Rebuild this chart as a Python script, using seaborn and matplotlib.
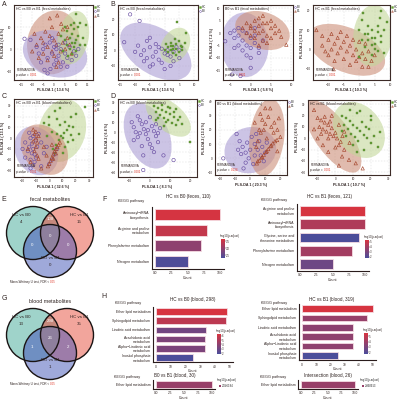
import numpy as np
import seaborn as sns
import matplotlib
matplotlib.use("Agg")
import matplotlib.pyplot as plt
from matplotlib.patches import Ellipse, Circle, Patch, Polygon
from matplotlib.lines import Line2D
from matplotlib.colors import LinearSegmentedColormap, Normalize
from matplotlib.cm import ScalarMappable

W, H = 397, 400

# ---------------- PLS-DA scores ----------------
a_hc = [(6, 2), (8, 3), (9, 1), (7, 5), (10, 4), (11, 6), (8, 7), (9, 9), (6, 8), (12, 2), (7, 0),
        (10, -1), (9, 12), (11, 10), (5, 4), (8, -2), (13, 5), (10, 16), (9.5, 3), (14.5, 10.8),
        (7.5, 11), (6.5, -3), (3, 6), (4, -1), (14, 2), (12, 12), (5, 10)]
a_b0 = [(-13.5, 4.7), (-10.8, 4.2), (-4.4, -9.4), (-1.7, -9), (-3, -11), (-7, -2), (-5, 0), (-3, -4),
        (-1, -2), (0, 1), (1, -5), (2, -3), (3, 0), (4, -6), (5, -2), (6, -4), (7, 1), (8, -5), (9, -1),
        (10, -3), (-2, 3), (0, -7), (2, 2), (-6, -6), (3, -8), (5, 3), (-4, 2), (1, 0), (6, -8), (11, 0),
        (-8, 1), (-1, 5)]
a_b1 = [(1.4, 15.3), (3.2, 11.5), (-2, 14), (-8, 2), (-6, 5), (-4, 8), (-2, 6), (0, 4), (2, 7), (4, 3),
        (6, 5), (-5, -2), (-3, 1), (-1, -1), (1, 2), (3, -1), (5, 0), (7, 2), (-7, -4), (-3, -5), (0, -3),
        (2, -6), (4, 9), (-1, 10), (-9, 7), (8, -2), (-5, 3), (1, -8), (6, 10), (-10, -1)]

b1_hc = [(1, 2), (2, 0), (3, 3), (4, 1), (5, -1), (3, -2), (2, 5), (4, 4), (6, 2), (5, 6), (1, -1),
         (3, 1), (4, -3), (2, 3), (6, 0), (4.1, 18), (7.4, 11), (0.5, 4), (3.5, 7), (5.5, 3), (0, 0),
         (7, 5)]
b1_b0 = [(-11.7, 23), (-8.5, 18.8), (-13.7, 5.2), (-5, -10.4), (5, -5), (-9, 3), (-7, 0), (-5, 2),
         (-3, -1), (-1, 1), (1, -3), (3, -1), (-6, -5), (-4, -4), (-2, -6), (0, -2), (2, -4), (4, 2),
         (-8, -3), (-3, 4), (-1, -8), (1, 0), (-6, 6), (-2, 2), (3, -7), (-4, -9), (0, -12), (-7, -7),
         (2, -10), (-10, -1), (5, 0), (-5, 8)]

b2_b0 = [(-6.25, -3.3), (0, -14), (-2.5, -17.3), (-4.6, -16.7), (-4, 1), (-3, -1), (-2, -3), (-1, 0),
         (0, -2), (1, -4), (2, -6), (-3, -5), (-2, -7), (-1, -9), (0, -6), (1, -1), (-4, -2), (-5, 0),
         (-3, 2), (-1, -5), (2, -8), (-2, 1), (0, -10), (3, -3), (-4, -6), (1, 2)]
b2_b1 = [(8.75, -4.7), (7.5, -1.5), (-1, 4), (0, 2), (1, 5), (2, 3), (3, 1), (4, 4), (5, 2), (6, 0),
         (0, -1), (1, -2), (2, 0), (3, -3), (4, -1), (5, 5), (6, 3), (-1, 0), (2, 6), (3, 7), (1, 1),
         (4, -4), (0, 3), (5, -2), (7, 1), (2, -5), (-2, 2), (3, 4)]

b3_hc = [(1.1, 19), (6.7, 16.4), (2, 8), (3, 5), (4, 10), (5, 6), (6, 9), (4, 2), (3, 12), (5, 3),
         (7, 7), (2, 1), (6, 12), (4, -3), (5, 0), (3, 8), (7, 4), (1, 5), (4, 6), (6, -1), (0, 10),
         (8, 10), (0, -4), (9, 14), (8, -2), (1, 15), (7, 20)]
b3_b1 = [(-13.9, 10), (-8.3, -10.3), (-12, 7), (-12, 2), (-10, 5), (-10, -3), (-9, 8), (-8, 3),
         (-8, -6), (-7, 6), (-7, -2), (-6, 1), (-6, 9), (-5, 4), (-5, -5), (-4, -1), (-4, 7), (-3, 2),
         (-3, -8), (-2, -3), (-2, 5), (-1, 0), (-1, -6), (0, -4), (0, 4), (1, -2), (1, -9), (2, -5),
         (2, 3), (3, -1), (4, -6), (5, -3), (3, -9), (-11, -1), (-9, 0)]

c_hc = [(26.6, 28.6), (20, 22), (3, -10), (5, -6), (7, -2), (9, 2), (11, 5), (13, 8), (15, 11),
        (4, -14), (8, 12), (12, 15), (6, 18), (10, 0), (16, 3), (2, 6), (14, -4), (18, 10), (0, 12),
        (6, 4), (-4, 14), (0, 20), (4, 25), (12, -8), (18, -2), (22, 4), (-2, 2), (8, 28), (16, 20),
        (10, -14)]
c_b0 = [(-15, 5), (-14, 0), (-13, -5), (-12, -10), (-11, -15), (-14, -20), (-10, -2), (-9, -8),
        (-12, 2), (-13, -14), (-11, -22), (-16, -12), (-10, -18), (-15, -8), (-12, -25), (2, -20),
        (4, -15), (6, -10), (0, -24), (-18, -4), (-8, 4), (-14, -28), (-20, -10), (-6, -4),
        (-4, -14), (-18, -18), (-2, -8), (-6, -26)]
c_b1 = [(-12, 8), (-11, 4), (-10, 0), (-9, -4), (-10, -8), (-11, -12), (-9, -16), (-8, -19),
        (-12, -3), (-8, 2), (-10, 6), (0, -24), (1, -21), (2, -18), (3, -15), (4, -12), (5, -10),
        (6, -8), (7, -6), (8, -4), (-1, -26), (3, -19), (5, -14), (-16, -10), (-14, -22), (-4, -8),
        (-2, -16), (-6, -28), (2, -6)]

d1_b0 = [(-3.3, -23.3), (6.7, -23.3), (-3.3, -38), (11.7, -28), (2, -20), (-9, 10), (-8, 5), (-7, 0),
         (-6, -5), (-5, 12), (-4, 8), (-3, 3), (-2, -2), (-1, -7), (0, 15), (1, 6), (2, 1), (3, -4),
         (4, -10), (5, 4), (-6, 16), (-2, 10), (0, -12), (-4, -14), (3, 8), (-8, -8), (1, -16),
         (-1, 2), (4, -1), (-5, -1)]
d1_hc = [(20, -10), (2, 26), (4, 24), (6, 22), (8, 20), (10, 18), (12, 15), (14, 12), (3, 20),
         (5, 17), (7, 14), (9, 12), (11, 9), (13, 7), (6, 27), (10, 24), (15, 15), (4, 14), (8, 10),
         (12, 20), (3, 12), (9, 25), (13, 23), (7, 6), (16, 8)]

d2_b0 = [(-17.8, 0), (-4.4, -7), (-9, 17), (-7, 12), (-5, 8), (-3, 4), (-1, 0), (1, 15), (3, 10),
         (5, 6), (7, 2), (9, -2), (-6, 3), (-2, 11), (0, 6), (2, -4), (4, 17), (6, 12), (8, 8),
         (10, 4), (-8, 6), (11, 11), (-3, -3), (3, 2)]
d2_b1 = [(4.4, -3.5), (6, -1.5), (7.5, 0.5), (9, 2.5), (10.5, 4.5), (12, 6.5), (13.5, 8.5),
         (15, 10.5), (16.5, 12), (17.8, 12.8), (5, -2), (8, 1), (11, 5), (14, 9), (6.7, 31), (8, 27),
         (10, 24), (12, 29), (14, 22), (15.5, 18), (9, 20), (11, 14), (13.3, 34.9), (7, 18),
         (16, 25), (5, 12), (4, 8), (6, 20), (18, 20), (20, 15), (3, 25), (18, 5), (10, 35), (19, 28)]

d3_b1 = [(3.8, -16), (7.7, -19), (11.5, -22), (15.4, -26.5), (2, -24), (-10, 18), (-8, 16), (-6, 14),
         (-4, 12), (-9, 10), (-7, 8), (-5, 6), (-3, 4), (-1, 2), (1, 0), (3, -3), (-6, 19), (-2, 9),
         (0, 5), (2, -6), (-8, 4), (4, 2), (-4, 0), (0, -8), (5, -10), (-3, 15), (-12, 8), (-10, 0),
         (-7, -6), (-4, -12), (-2, 20), (2, 12), (5, 6), (-12, 25), (8, -4)]
d3_hc = [(25, 5.9), (4, 20), (6, 18), (8, 15), (10, 12), (12, 9), (14, 6), (16, 3), (18, 0),
         (20, -4), (7, 8), (9, 4), (11, 1), (13, -2), (15, 14), (17, 10), (5, 12), (19, 8), (22, 2),
         (10, -6), (8, 25), (12, 22), (14, 24), (20, 16), (24, -8), (16, -10), (6, 2), (12, -12),
         (20, 20), (4, 6)]

# ---------------- Venn counts ----------------
venn_sets = ["HC vs B0", "HC vs B1", "BO vs B1"]
fecal_counts = {"a": 4, "b": 15, "c": 0, "ab": 108, "ac": 0, "bc": 0, "abc": 0}
blood_counts = {"a": 13, "b": 35, "c": 1, "ab": 298, "ac": 1, "bc": 2, "abc": 26}

# ---------------- KEGG enrichment ----------------
f1_terms = ["Aminoacyl\u2212tRNA\nbiosynthesis", "Arginine and proline\nmetabolism",
            "Phenylalanine metabolism", "Nitrogen metabolism"]
f1_count = [10, 8, 7, 5]
f1_logp = [3.62, 3.45, 2.95, 2.35]

f2_terms = ["Arginine and proline\nmetabolism", "Aminoacyl\u2212tRNA\nbiosynthesis",
            "Glycine, serine and\nthreonine metabolism", "Phenylalanine metabolism",
            "Nitrogen metabolism"]
f2_count = [10, 10, 9, 8, 5]
f2_logp = [5.25, 4.3, 1.85, 4.0, 2.7]

lipid_terms = ["Ether lipid metabolism", "Sphingolipid metabolism", "Linoleic acid metabolism",
               "Arachidonic acid\nmetabolism", "Alpha\u2212Linolenic acid\nmetabolism",
               "Inositol phosphate\nmetabolism"]
h1_count = [48, 47, 34, 33, 33, 25]
h1_logp = [6.35, 5.5, 3.1, 3.5, 3.4, 1.85]
h2_count = [50, 46, 36, 36, 36, 25]
h2_logp = [5.55, 3.8, 3.5, 3.6, 3.6, 1.75]
h3_terms = ["Ether lipid metabolism"]
h3_count = [10]
h3_logp = ["2.046184"]
h4_count = [10]
h4_logp = ["2.868913"]

# ---------------- style ----------------
sns.set_style("white")
plt.rcParams["font.family"] = ["Liberation Sans", "DejaVu Sans"]
INK = "#2e2220"
COL = {"HC": "#6aa33a", "B0": "#6a4fa3", "B1": "#a5472e"}
FILL = {"HC": "#c3d79a", "B0": "#ab9dd4", "B1": "#cc8f78"}
MARK = {"HC": "s", "B0": "o", "B1": "^"}
cmap = LinearSegmentedColormap.from_list("kegg", ["#4a4d9b", "#d8343f"])

fig = plt.figure(figsize=(W / 100, H / 100), dpi=100)


def box(x0, y0, x1, y1):
    return [x0 / W, 1 - y1 / H, (x1 - x0) / W, (y1 - y0) / H]


def ftext(x, y, s, **kw):
    kw.setdefault("color", INK)
    return fig.text(x / W, 1 - y / H, s, **kw)


def ellipse(ax, pts, g):
    pts = np.asarray(pts, float)
    vals, vecs = np.linalg.eigh(np.cov(pts.T))
    ang = np.degrees(np.arctan2(vecs[1, 1], vecs[0, 1]))
    k = 2 * 2.4477
    ax.add_patch(Ellipse(pts.mean(0), k * np.sqrt(vals[1]), k * np.sqrt(vals[0]), angle=ang,
                         fc=FILL[g], ec="none", alpha=0.6, zorder=1))


def pls(rect, groups, title, xlab, ylab, pval, xlim, ylim, xt, yt):
    ax = fig.add_axes(box(*rect))
    for g, pts in groups:
        ellipse(ax, pts, g)
    for g, pts in groups:
        pts = np.asarray(pts, float)
        if g == "HC":
            sns.scatterplot(x=pts[:, 0], y=pts[:, 1], marker="s", color=COL[g], edgecolor="#4d7d26",
                            s=3, linewidth=0.25, ax=ax, zorder=3)
        else:
            sns.scatterplot(x=pts[:, 0], y=pts[:, 1], marker=MARK[g], color=COL[g], facecolor="none",
                            edgecolor=COL[g], s=6, linewidth=0.45, ax=ax, zorder=3)
    ax.set_xlim(*xlim)
    ax.set_ylim(*ylim)
    ax.set_xticks(xt)
    ax.set_yticks(yt)
    ax.grid(True, ls=(0, (3, 3)), color="#d9d9d9", lw=0.35)
    ax.set_axisbelow(True)
    for sp in ax.spines.values():
        sp.set_color("#3d2b27")
        sp.set_linewidth(0.8)
    ax.tick_params(labelsize=2.2, length=1, width=0.3, pad=0.8, colors=INK)
    ax.set_xlabel(xlab, fontsize=2.6, labelpad=1, color=INK, fontweight="bold")
    ax.set_ylabel(ylab, fontsize=2.6, labelpad=1, color=INK, fontweight="bold")
    ax.text(0.03, 0.97, title, transform=ax.transAxes, fontsize=2.5, va="top", color=INK)
    ax.text(0.03, 0.11, "PERMANOVA", transform=ax.transAxes, fontsize=2.2, va="bottom", color=INK)
    t = ax.text(0.03, 0.04, "p-value = ", transform=ax.transAxes, fontsize=2.2, va="bottom", color=INK)
    ax.annotate(pval, xy=(1, 0), xycoords=t, fontsize=2.2, va="bottom", color="#e0392b")
    order = ["HC", "B0", "B1"]
    handles = [Line2D([], [], marker=MARK[g], ls="", ms=1.3, mew=0.35, color=COL[g],
                      mfc=COL[g] if g == "HC" else "none", label=g)
               for g in order if g in [p[0] for p in groups]]
    ax.legend(handles=handles, loc="upper left", bbox_to_anchor=(0.99, 1.02), frameon=False, fontsize=2.2,
              handletextpad=0.1, borderpad=0, labelspacing=0.1, handlelength=0.8)
    return ax


pls((14, 5, 93, 80), [("B1", a_b1), ("B0", a_b0), ("HC", a_hc)], "HC vs B0 vs B1 (fecal metabolites)",
    "PLS-DA 1 ( 13.6 %)", "PLS-DA 2 ( 6.4 %)", "0.001", (-18.3, 17.7), (-14, 20),
    [-15, -10, -5, 0, 5, 10, 15], [-10, 0, 10])
pls((118, 5, 198, 80), [("B0", b1_b0), ("HC", b1_hc)], "HC vs B0 (fecal metabolites)",
    "PLS-DA 1 ( 13.6 %)", "PLS-DA 2 ( 6.4 %)", "0.001", (-15.8, 11.3), (-19, 29),
    [-15, -10, -5, 0, 5, 10], [-10, 0, 10, 20])
pls((223, 5, 293, 80), [("B0", b2_b0), ("B1", b2_b1)], "B0 vs B1 (fecal metabolites)",
    "PLS-DA 1 ( 5.8 %)", "PLS-DA 2 ( 7.2 %)", "0.001", (-6.8, 10.4), (-18.9, 11.3),
    [-5, 0, 5, 10], [-15, -10, -5, 0, 5, 10])
pls((313, 5, 390, 80), [("B1", b3_b1), ("HC", b3_hc)], "HC vs B1 (fecal metabolites)",
    "PLS-DA 1 ( 10.3 %)", "PLS-DA 2 ( 5.2 %)", "0.001", (-15, 10), (-15.9, 23),
    [-10, -5, 0, 5, 10], [-10, 0, 10, 20])
pls((14, 99, 93, 177), [("HC", c_hc), ("B0", c_b0), ("B1", c_b1)], "HC vs B0 vs B1 (blood metabolites)",
    "PLS-DA 1 ( 32.6 %)", "PLS-DA 2 ( 13.1 %)", "0.001", (-26.4, 32.8), (-36, 36.3),
    [-20, -10, 0, 10, 20, 30], [-30, -20, -10, 0, 10, 20, 30])
pls((118, 99, 197, 177), [("B0", d1_b0), ("HC", d1_hc)], "HC vs B0 (blood metabolites)",
    "PLS-DA 1 ( 8.3 %)", "PLS-DA 2 ( 6.4 %)", "0.001", (-15.8, 23.3), (-45, 33.3),
    [-10, 0, 10, 20], [-40, -30, -20, -10, 0, 10, 20, 30])
pls((215, 100, 287, 175), [("B0", d2_b0), ("B1", d2_b1)], "B0 vs B1 (blood metabolites)",
    "PLS-DA 1 ( 20.3 %)", "PLS-DA 2 ( 13.2 %)", "0.134", (-23.3, 24.4), (-11.6, 40.7),
    [-20, -10, 0, 10, 20], [-10, 0, 10, 20, 30, 40])
pls((308, 100, 390, 175), [("B1", d3_b1), ("HC", d3_hc)], "HC vs B1 (blood metabolites)",
    "PLS-DA 1 ( 10.7 %)", "PLS-DA 2 ( 8.6 %)", "0.001", (-15.4, 30.8), (-32.4, 33.8),
    [-10, 0, 10, 20, 30], [-30, -20, -10, 0, 10, 20, 30])


# ---------------- Venn diagrams ----------------
def venn(y0, counts, title):
    ax = fig.add_axes(box(0, y0, 100, y0 + 95))
    ax.set_xlim(0, 100)
    ax.set_ylim(y0 + 95, y0)
    ax.axis("off")
    r = 26.5
    cen = [(33, y0 + 38), (67, y0 + 38), (50, y0 + 56)]
    base = ["#9fd3ca", "#f2a59c", "#9fa9da"]
    pair = {(0, 1): "#c6897d", (0, 2): "#6f8fc2", (1, 2): "#9d7ca9"}
    for c, fc in zip(cen, base):
        ax.add_patch(Circle(c, r, fc=fc, ec="none", zorder=1))
    for (i, j), fc in pair.items():
        p = Circle(cen[j], r, fc=fc, ec="none", zorder=2)
        ax.add_patch(p)
        p.set_clip_path(Circle(cen[i], r, transform=ax.transData))
    th = np.linspace(0, 2 * np.pi, 720)
    pts = np.vstack([np.c_[cx + r * np.cos(th), cy + r * np.sin(th)] for cx, cy in cen])
    inside = np.all([np.hypot(pts[:, 0] - cx, pts[:, 1] - cy) <= r + 1e-6 for cx, cy in cen], axis=0)
    tri = pts[inside]
    m = tri.mean(0)
    tri = tri[np.argsort(np.arctan2(tri[:, 1] - m[1], tri[:, 0] - m[0]))]
    ax.add_patch(Polygon(tri, fc="#8e7f9d", ec="none", zorder=3))
    for c in cen:
        ax.add_patch(Circle(c, r, fc="none", ec="#1a1414", lw=1.0, zorder=4))
    fs = 3.2
    ax.text(21, y0 + 21, venn_sets[0], ha="center", fontsize=fs, color=INK, zorder=5)
    ax.text(21, y0 + 28, counts["a"], ha="center", fontsize=fs, color=INK, zorder=5)
    ax.text(79, y0 + 21, venn_sets[1], ha="center", fontsize=fs, color=INK, zorder=5)
    ax.text(79, y0 + 28, counts["b"], ha="center", fontsize=fs, color=INK, zorder=5)
    ax.text(50, y0 + 25, counts["ab"], ha="center", fontsize=fs, color="white", zorder=5)
    ax.text(50, y0 + 42, counts["abc"], ha="center", fontsize=fs, color="white", zorder=5)
    ax.text(32, y0 + 51, counts["ac"], ha="center", fontsize=fs, color="white", zorder=5)
    ax.text(68, y0 + 51, counts["bc"], ha="center", fontsize=fs, color="white", zorder=5)
    ax.text(50, y0 + 64, venn_sets[2], ha="center", fontsize=fs, color=INK, zorder=5)
    ax.text(50, y0 + 71, counts["c"], ha="center", fontsize=fs, color=INK, zorder=5)
    ax.text(50, y0 + 4, title, ha="center", va="center", fontsize=3.8, color=INK)
    ax.text(50, y0 + 87, "Mann-Whitney U test, FDR < ", ha="right", va="center", fontsize=2.2, color=INK)
    ax.text(50, y0 + 87, "0.05", ha="left", va="center", fontsize=2.2, color="#e0392b")


venn(195, fecal_counts, "fecal metabolites")
venn(297, blood_counts, "blood metabolites")


# ---------------- KEGG bar charts ----------------
def kegg(rect, terms, counts, logp, title, title_xy, kegg_xy, xlim, xt, xtl, cb=None, vlim=None,
         cticks=None, single=None):
    ax = fig.add_axes(box(*rect))
    if single is None:
        norm = Normalize(*vlim)
        pal = [cmap(norm(v)) for v in logp]
    else:
        pal = [cmap(0.55)] * len(terms)
    sns.barplot(x=counts, y=terms, hue=terms, palette=pal, legend=False, ax=ax, width=0.72,
                edgecolor="#f6dde3", linewidth=0.6, saturation=1)
    ax.set_xlim(*xlim)
    ax.set_xticks(xt)
    ax.set_xticklabels(xtl)
    sns.despine(ax=ax)
    for sp in ("left", "bottom"):
        ax.spines[sp].set_color("#2a1c1c")
        ax.spines[sp].set_linewidth(0.8)
    ax.tick_params(axis="y", labelsize=2.5, length=1, width=0.3, pad=1, colors=INK)
    ax.tick_params(axis="x", labelsize=2.3, length=1, width=0.3, pad=0.8, colors=INK)
    ax.set_ylabel("")
    ax.set_xlabel("Count", fontsize=2.6, labelpad=0.5, color=INK)
    ftext(*title_xy, title, fontsize=3.3, ha="center", va="center")
    ftext(*kegg_xy, "KEGG pathway", fontsize=2.7, ha="center", va="center")
    if cb is not None:
        cax = fig.add_axes(box(*cb))
        c = fig.colorbar(ScalarMappable(norm=norm, cmap=cmap), cax=cax, ticks=cticks)
        c.outline.set_visible(False)
        cax.tick_params(labelsize=2, length=0.8, width=0.3, pad=0.5, colors=INK)
        ftext(cb[0] - 1, cb[1] - 3, "\u2212log10(p.adjust)", fontsize=2, ha="left", va="center")
    if single is not None:
        ax.legend(handles=[Patch(fc=pal[0], ec="none", label=single)], title="\u2212log10(p.adjust)",
                  loc="upper left", bbox_to_anchor=(1.0, 1.35), frameon=False, fontsize=2, title_fontsize=2,
                  handlelength=0.8, handleheight=0.8, borderpad=0, handletextpad=0.3)
    return ax


kegg((152, 207, 224, 269), f1_terms, f1_count, f1_logp, "HC vs B0 (feces, 110)", (188, 197), (131, 201),
     (-0.5, 10.6), [0, 2.5, 5, 7.5, 10], ["0.0", "2.5", "5.0", "7.5", "10.0"],
     cb=(221, 239, 224.5, 258), vlim=(2.3, 3.65), cticks=[2.5, 3.0, 3.5])
kegg((297, 204, 369, 271), f2_terms, f2_count, f2_logp, "HC vs B1 (feces, 121)", (330, 197), (274, 200),
     (-0.5, 10.6), [0, 2.5, 5, 7.5, 10], ["0.0", "2.5", "5.0", "7.5", "10.0"],
     cb=(365, 240, 368.5, 258), vlim=(1.8, 5.3), cticks=[2, 3, 4, 5])
kegg((153, 307, 233, 362), lipid_terms, h1_count, h1_logp, "HC vs B0 (blood, 298)", (193, 300), (128, 303),
     (-2, 52), [0, 10, 20, 30, 40, 50], ["0", "10", "20", "30", "40", "50"],
     cb=(217, 334, 220.5, 354), vlim=(1.8, 6.4), cticks=[2, 3, 4, 5, 6])
kegg((299, 304, 376, 360), lipid_terms, h2_count, h2_logp, "HC vs B1 (blood, 319)", (332, 299), (274, 303),
     (-2, 52), [0, 10, 20, 30, 40, 50], ["0", "10", "20", "30", "40", "50"],
     cb=(364, 333, 367.5, 354), vlim=(1.7, 5.6), cticks=[2, 3, 4, 5])
kegg((153, 380, 215, 389), h3_terms, h3_count, None, "B0 vs B1 (blood, 30)", (175, 375), (127, 377),
     (-0.5, 10.6), [0, 2.5, 5, 7.5, 10], ["0.0", "2.5", "5.0", "7.5", "10.0"], single=h3_logp[0])
kegg((298, 380, 358, 389), h3_terms, h4_count, None, "Intersection (blood, 26)", (328, 375), (273, 377),
     (-0.5, 10.6), [0, 2.5, 5, 7.5, 10], ["0.0", "2.5", "5.0", "7.5", "10.0"], single=h4_logp[0])

# panel letters
for letter, x, y in [("A", 4, 4), ("B", 113, 4), ("C", 4, 97), ("D", 113, 97), ("E", 4, 199),
                     ("F", 105, 199), ("G", 4, 299), ("H", 104, 297)]:
    ftext(x, y, letter, fontsize=5, ha="center", va="center")

fig.savefig("out.png", dpi=100)
